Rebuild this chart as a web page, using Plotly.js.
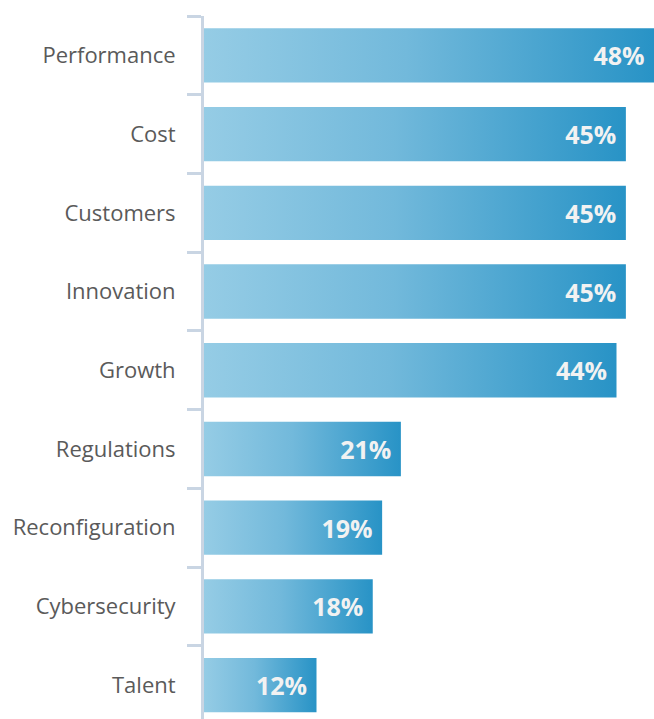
<!DOCTYPE html>
<html>
<head>
<meta charset="utf-8">
<script src="https://cdn.plot.ly/plotly-3.0.1.min.js"></script>
<style>
  html, body { margin: 0; padding: 0; background: #ffffff; }
  #chart { width: 654px; height: 719px; }
</style>
</head>
<body>
<div id="chart"></div>
<script>
const categories = ["Performance", "Cost", "Customers", "Innovation", "Growth",
                    "Regulations", "Reconfiguration", "Cybersecurity", "Talent"];
const values = [48, 45, 45, 45, 44, 21, 19, 18, 12];
const valueLabels = values.map(v => v + "%\u00a0");

const axisColor = "#c9d5e3";

const trace = {
  type: "bar",
  orientation: "h",
  y: categories,
  x: values,
  text: valueLabels,
  textposition: "inside",
  insidetextanchor: "end",
  textangle: 0,
  constraintext: "none",
  textfont: { family: "Open Sans, Noto Sans, sans-serif", size: 25, color: "#f2f2f2", weight: "bold" },
  marker: { color: "#5db0d8", line: { width: 0 } },
  width: 0.69,
  hoverinfo: "none",
  cliponaxis: false
};

const layout = {
  width: 654,
  height: 719,
  margin: { l: 204, r: 0, t: 16, b: 0, pad: 0 },
  paper_bgcolor: "#ffffff",
  plot_bgcolor: "#ffffff",
  showlegend: false,
  bargap: 0.31,
  xaxis: {
    range: [0, 48],
    visible: false,
    showgrid: false,
    zeroline: false,
    fixedrange: true
  },
  yaxis: {
    type: "category",
    range: [8.43, -0.5],
    showline: true,
    linecolor: axisColor,
    linewidth: 3,
    ticks: "outside",
    tickson: "boundaries",
    ticklen: 14,
    tickwidth: 3,
    tickcolor: axisColor,
    showgrid: false,
    zeroline: false,
    ticklabelstandoff: 21,
    tickfont: { family: "Open Sans, Noto Sans, sans-serif", size: 22, color: "#5a5a5a" },
    fixedrange: true
  }
};

Plotly.newPlot("chart", [trace], layout, { displayModeBar: false, staticPlot: true }).then(function (gd) {
  const svg = gd.querySelector("svg.main-svg");
  const ns = "http://www.w3.org/2000/svg";
  let defs = svg.querySelector("defs");
  if (!defs) { defs = document.createElementNS(ns, "defs"); svg.insertBefore(defs, svg.firstChild); }
  const grad = document.createElementNS(ns, "linearGradient");
  grad.setAttribute("id", "barGrad");
  grad.setAttribute("x1", "0"); grad.setAttribute("y1", "0");
  grad.setAttribute("x2", "1"); grad.setAttribute("y2", "0");
  [["0%", "#95cce5"], ["45%", "#72b9db"], ["100%", "#2893c6"]].forEach(function (s) {
    const stop = document.createElementNS(ns, "stop");
    stop.setAttribute("offset", s[0]);
    stop.setAttribute("stop-color", s[1]);
    grad.appendChild(stop);
  });
  defs.appendChild(grad);
  gd.querySelectorAll("g.trace.bars g.point path").forEach(function (p) {
    p.style.fill = "url(#barGrad)";
  });
});
</script>
</body>
</html>
